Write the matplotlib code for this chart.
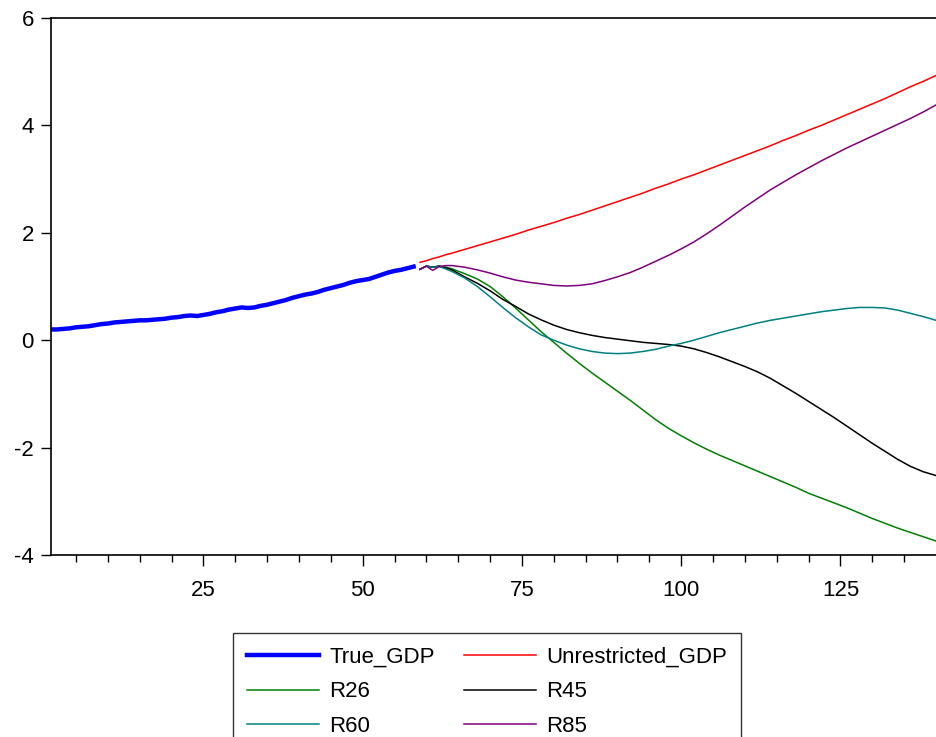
import matplotlib
matplotlib.use("Agg")
import matplotlib.pyplot as plt

plt.rcParams['font.family'] = ['Liberation Sans', 'DejaVu Sans']

# Observed history
hist_t = list(range(1, 59))
true_gdp = [0.20, 0.20, 0.21, 0.22, 0.24, 0.25, 0.26, 0.28, 0.30, 0.31,
            0.33, 0.34, 0.35, 0.36, 0.37, 0.37, 0.38, 0.39, 0.40, 0.42,
            0.43, 0.45, 0.46, 0.45, 0.47, 0.49, 0.52, 0.54, 0.57, 0.59,
            0.61, 0.60, 0.61, 0.64, 0.66, 0.69, 0.72, 0.75, 0.79, 0.82,
            0.85, 0.87, 0.90, 0.94, 0.97, 1.00, 1.03, 1.07, 1.10, 1.12,
            1.14, 1.18, 1.22, 1.26, 1.29, 1.31, 1.34, 1.37]

# Forecast horizon
fc_t = [59, 60, 61, 62, 63, 64, 66, 68, 70, 72, 74, 76, 78, 80, 82, 84, 86,
        88, 90, 92, 94, 96, 98, 100, 102, 104, 106, 108, 110, 112, 114, 116,
        118, 120, 122, 124, 126, 128, 130, 132, 134, 136, 138, 140]

unrestricted = [1.45, 1.48, 1.52, 1.55, 1.59, 1.62, 1.69, 1.76, 1.83, 1.90,
                1.97, 2.05, 2.12, 2.19, 2.27, 2.34, 2.42, 2.50, 2.58, 2.66,
                2.74, 2.83, 2.91, 3.00, 3.08, 3.17, 3.26, 3.35, 3.44, 3.53,
                3.62, 3.72, 3.81, 3.91, 4.00, 4.10, 4.20, 4.30, 4.40, 4.50,
                4.61, 4.72, 4.82, 4.93]

r26 = [1.32, 1.38, 1.36, 1.38, 1.36, 1.33, 1.24, 1.14, 1.00, 0.81,
       0.60, 0.38, 0.16, -0.04, -0.24, -0.43, -0.61, -0.78, -0.95, -1.12,
       -1.30, -1.48, -1.64, -1.78, -1.91, -2.03, -2.14, -2.24, -2.34, -2.44,
       -2.54, -2.64, -2.74, -2.85, -2.94, -3.03, -3.12, -3.22, -3.32, -3.41,
       -3.50, -3.58, -3.66, -3.74]

r45 = [1.32, 1.38, 1.36, 1.38, 1.35, 1.31, 1.18, 1.06, 0.92, 0.76,
       0.63, 0.49, 0.38, 0.28, 0.20, 0.14, 0.09, 0.05, 0.02, -0.01,
       -0.04, -0.06, -0.08, -0.11, -0.16, -0.23, -0.31, -0.40, -0.49, -0.59,
       -0.71, -0.85, -0.99, -1.14, -1.29, -1.44, -1.60, -1.76, -1.92, -2.07,
       -2.22, -2.35, -2.45, -2.52]

r60 = [1.32, 1.38, 1.36, 1.37, 1.33, 1.28, 1.16, 1.00, 0.81, 0.61,
       0.42, 0.25, 0.10, 0.00, -0.09, -0.16, -0.21, -0.24, -0.25, -0.24,
       -0.21, -0.17, -0.11, -0.06, 0.00, 0.07, 0.14, 0.20, 0.26, 0.32,
       0.37, 0.41, 0.45, 0.49, 0.53, 0.56, 0.59, 0.61, 0.61, 0.60,
       0.56, 0.50, 0.44, 0.37]

r85 = [1.32, 1.38, 1.30, 1.37, 1.39, 1.39, 1.36, 1.31, 1.25, 1.18,
       1.12, 1.08, 1.05, 1.02, 1.01, 1.02, 1.05, 1.11, 1.18, 1.26,
       1.36, 1.47, 1.58, 1.70, 1.83, 1.98, 2.14, 2.31, 2.48, 2.64,
       2.80, 2.94, 3.08, 3.21, 3.34, 3.46, 3.58, 3.69, 3.80, 3.91,
       4.02, 4.13, 4.25, 4.38]

y_ticks = [-4, -2, 0, 2, 4, 6]
x_ticks = [25, 50, 75, 100, 125]

fig = plt.figure(figsize=(9.36, 7.37), dpi=100)
ax = fig.add_axes([50.5 / 936, 1 - 555 / 737, 1 - 50.5 / 936, (555 - 18) / 737])

lw = 1.1
h_true, = ax.plot(hist_t, true_gdp, color='#0000ff', lw=3.2, label='True_GDP')
h_unr, = ax.plot(fc_t, unrestricted, color='#ff0000', lw=lw, label='Unrestricted_GDP')
h_26, = ax.plot(fc_t, r26, color='#008000', lw=lw, label='R26')
h_45, = ax.plot(fc_t, r45, color='#000000', lw=lw, label='R45')
h_60, = ax.plot(fc_t, r60, color='#008080', lw=lw, label='R60')
h_85, = ax.plot(fc_t, r85, color='#800080', lw=lw, label='R85')

ax.set_xlim(1, 140)
ax.set_ylim(-4, 6)
ax.set_xticks(x_ticks)
ax.set_xticks(list(range(5, 140, 5)), minor=True)
ax.set_yticks(y_ticks)
ax.set_yticklabels([str(v) for v in y_ticks])

for side in ('left', 'bottom', 'top'):
    ax.spines[side].set_linewidth(1.2)
ax.spines['right'].set_visible(False)

ax.tick_params(axis='x', which='major', direction='out', length=8, width=1,
               labelsize=16, pad=10)
ax.tick_params(axis='x', which='minor', direction='out', length=5, width=1)
ax.tick_params(axis='y', which='major', direction='out', length=7, width=1,
               labelsize=16, pad=5)
ax.tick_params(axis='y', which='minor', left=False)

# two columns, filled row by row
handles = [h_true, h_26, h_60, h_unr, h_45, h_85]
leg = fig.legend(handles=handles, labels=[h.get_label() for h in handles],
                 loc='upper left', bbox_to_anchor=(233 / 936, 1 - 633 / 737),
                 ncol=2, fontsize=16, handlelength=3.25, handletextpad=0.45,
                 columnspacing=1.3, labelspacing=0.6, borderaxespad=0,
                 borderpad=0.63, fancybox=False, frameon=True)
leg.get_frame().set_edgecolor('#000000')
leg.get_frame().set_linewidth(1.0)

fig.savefig('out.png', dpi=100)
